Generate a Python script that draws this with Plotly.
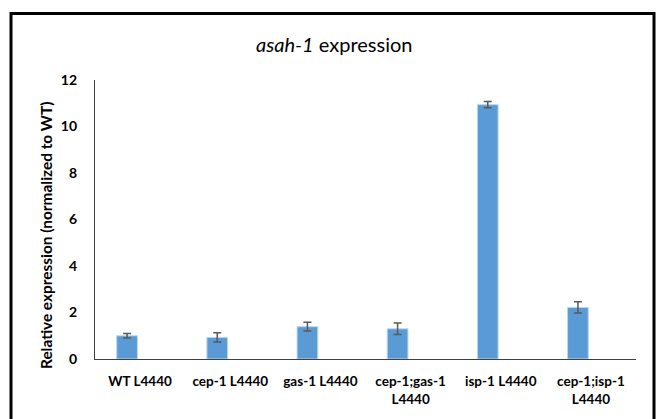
import plotly.graph_objects as go

# Strains (RNAi control L4440) and qPCR results
categories = ["WT L4440", "cep-1 L4440", "gas-1 L4440",
              "cep-1;gas-1<br>L4440", "isp-1 L4440", "cep-1;isp-1<br>L4440"]
expression = [1.0, 0.93, 1.39, 1.30, 10.94, 2.22]
errors = [0.10, 0.20, 0.19, 0.25, 0.13, 0.24]
y_ticks = [0, 2, 4, 6, 8, 10, 12]

W, H = 662, 419
L, R, T, B = 95, 26, 80, 60
pw, ph = W - L - R, H - T - B

def px_x(px):
    return (px - L) / pw

def px_y(py):
    return (H - B - py) / ph

font = "Lato, 'Open Sans', sans-serif"
bar_w = 0.23
shift = 13 / (pw / len(categories))

fig = go.Figure(go.Bar(
    x=categories, y=expression,
    width=bar_w, offset=-bar_w / 2 - shift,
    marker=dict(color="#5B9BD5", line=dict(color="#BDD7EE", width=1)),
    error_y=dict(type="data", array=errors, visible=True,
                 color="#595959", thickness=1.5, width=4),
))

fig.update_layout(
    width=W, height=H,
    margin=dict(l=L, r=R, t=T, b=B, pad=0),
    paper_bgcolor="white", plot_bgcolor="white",
    showlegend=False,
    font=dict(family=font, color="#000000"),
    xaxis=dict(
        type="category", range=[-0.5, 5.5],
        showline=True, linecolor="#404040", linewidth=1.2,
        showgrid=False, ticks="", tickangle=0,
        tickfont=dict(size=13.5, family=font, weight="bold", color="#000000"),
        ticklabelstandoff=10,
    ),
    yaxis=dict(
        range=[0, 12], tickvals=y_ticks,
        showline=True, linecolor="#404040", linewidth=1.2,
        showgrid=False, ticks="", zeroline=False,
        tickfont=dict(size=14, family=font, weight="bold", color="#000000"),
        ticklabelstandoff=14,
    ),
    annotations=[
        dict(text="<i>asah-1</i> expression", xref="paper", yref="paper",
             x=px_x(334), y=px_y(44), showarrow=False,
             xanchor="center", yanchor="middle",
             font=dict(size=20, family=font, color="#000000")),
        dict(text="Relative expression (normalized to WT)", xref="paper", yref="paper",
             x=px_x(46), y=px_y(236), showarrow=False, textangle=-90,
             xanchor="center", yanchor="middle",
             font=dict(size=15.4, family=font, weight="bold", color="#000000")),
    ],
    shapes=[
        dict(type="rect", xref="paper", yref="paper",
             x0=px_x(11), x1=px_x(654), y0=px_y(13.5), y1=px_y(440),
             line=dict(color="#000000", width=3), fillcolor="rgba(0,0,0,0)"),
    ],
)

fig.write_html("out.html")
